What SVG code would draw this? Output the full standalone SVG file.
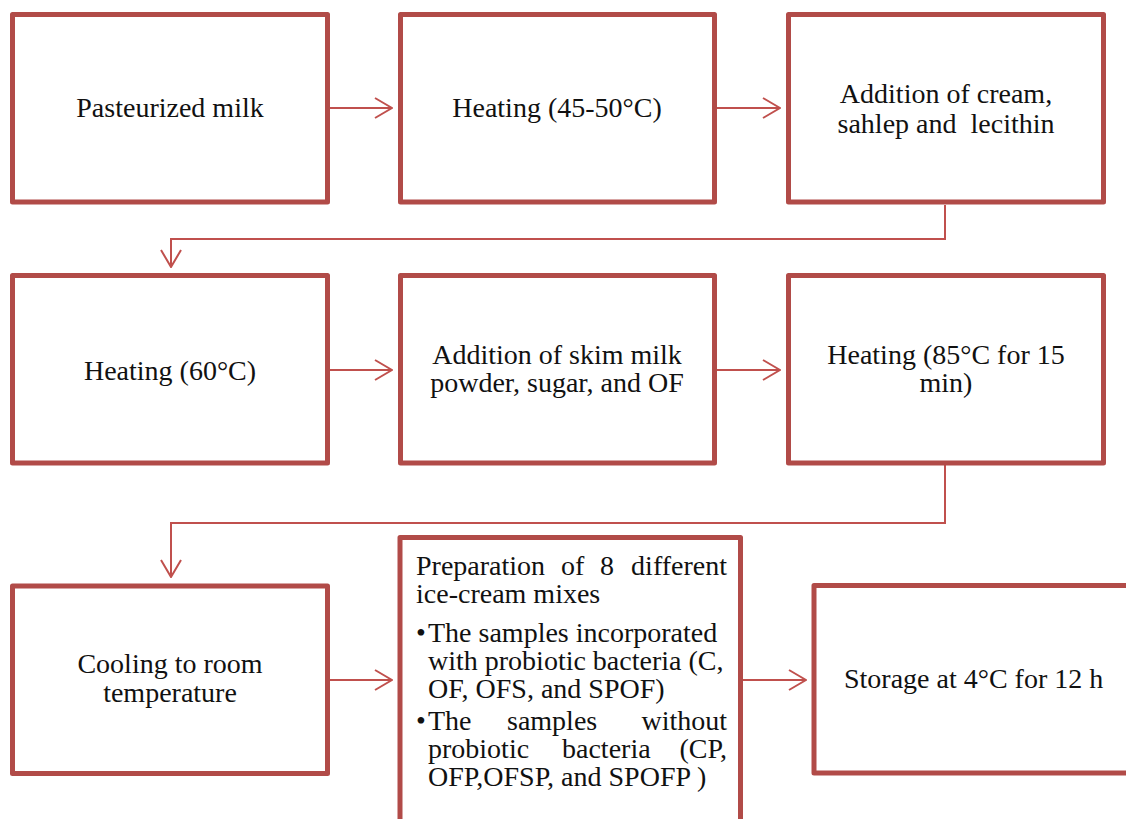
<svg xmlns="http://www.w3.org/2000/svg" width="1126" height="819" viewBox="0 0 1126 819">
<style>
.box{fill:#fff;stroke:#B14B48;stroke-width:5;stroke-linejoin:round}
.t{font-family:"Liberation Serif","Times New Roman",serif;font-size:28px;fill:#111}
.c{text-anchor:middle}
.e{text-anchor:end}
.ln{fill:none;stroke:#C0504D;stroke-width:2}
</style>
<defs>
<marker id="ah" viewBox="0 0 20 24" refX="19" refY="12" markerWidth="20" markerHeight="24" markerUnits="userSpaceOnUse" orient="auto">
<path d="M2,2 L19,12 L2,22" fill="none" stroke="#C0504D" stroke-width="2"/>
</marker>
</defs>
<rect width="1126" height="819" fill="#fff"/>
<g id="connectors">
<line class="ln" x1="330" y1="108" x2="392" y2="108" marker-end="url(#ah)"/>
<line class="ln" x1="717" y1="108" x2="780" y2="108" marker-end="url(#ah)"/>
<polyline class="ln" points="945,205 945,239 171,239 171,267" marker-end="url(#ah)"/>
<line class="ln" x1="330" y1="370" x2="392" y2="370" marker-end="url(#ah)"/>
<line class="ln" x1="717" y1="370" x2="780" y2="370" marker-end="url(#ah)"/>
<polyline class="ln" points="945,465 945,523 171,523 171,577" marker-end="url(#ah)"/>
<line class="ln" x1="330" y1="680" x2="392" y2="680" marker-end="url(#ah)"/>
<line class="ln" x1="743" y1="680" x2="806" y2="680" marker-end="url(#ah)"/>
</g>
<g id="n1"><rect class="box" x="12.5" y="14.5" width="315" height="187.5"/>
<text class="t c" x="170" y="117">Pasteurized milk</text></g>
<g id="n2"><rect class="box" x="400.5" y="14.5" width="314" height="187.5"/>
<text class="t c" x="557" y="117">Heating (45-50°C)</text></g>
<g id="n3"><rect class="box" x="788.5" y="14.5" width="315" height="187.5"/>
<text class="t c" x="946" y="103">Addition of cream,</text>
<text class="t c" x="946" y="133" xml:space="preserve">sahlep and  lecithin</text></g>
<g id="n4"><rect class="box" x="12.5" y="275.5" width="315" height="187.5"/>
<text class="t c" x="170" y="380">Heating (60°C)</text></g>
<g id="n5"><rect class="box" x="400.5" y="275.5" width="314" height="187.5"/>
<text class="t c" x="557" y="364">Addition of skim milk</text>
<text class="t c" x="557" y="392">powder, sugar, and OF</text></g>
<g id="n6"><rect class="box" x="788.5" y="275.5" width="315" height="187.5"/>
<text class="t c" x="946" y="364">Heating (85°C for 15</text>
<text class="t c" x="946" y="392">min)</text></g>
<g id="n7"><rect class="box" x="12.5" y="586" width="315" height="187.5"/>
<text class="t c" x="170" y="673">Cooling to room</text>
<text class="t c" x="170" y="702">temperature</text></g>
<g id="n8"><rect class="box" x="400" y="537.5" width="340.5" height="300"/>
<text class="t" y="575"><tspan x="416">Preparation</tspan><tspan x="561">of</tspan><tspan x="600">8</tspan><tspan x="727" text-anchor="end">different</tspan></text>
<text class="t" x="416" y="603">ice-cream mixes</text>
<text class="t" x="416" y="642">•</text>
<text class="t" x="428" y="642">The samples incorporated</text>
<text class="t" x="428" y="670">with probiotic bacteria (C,</text>
<text class="t" x="428" y="698">OF, OFS, and SPOF)</text>
<text class="t" x="416" y="730">•</text>
<text class="t" y="730"><tspan x="428">The</tspan><tspan x="507">samples</tspan><tspan x="727" text-anchor="end">without</tspan></text>
<text class="t" y="758"><tspan x="428">probiotic</tspan><tspan x="562">bacteria</tspan><tspan x="727" text-anchor="end">(CP,</tspan></text>
<text class="t" x="428" y="786">OFP,OFSP, and SPOFP )</text></g>
<g id="n9"><rect class="box" x="814" y="585.5" width="330" height="187.5"/>
<text class="t" x="844" y="688">Storage at 4°C for 12 h</text></g>
</svg>
